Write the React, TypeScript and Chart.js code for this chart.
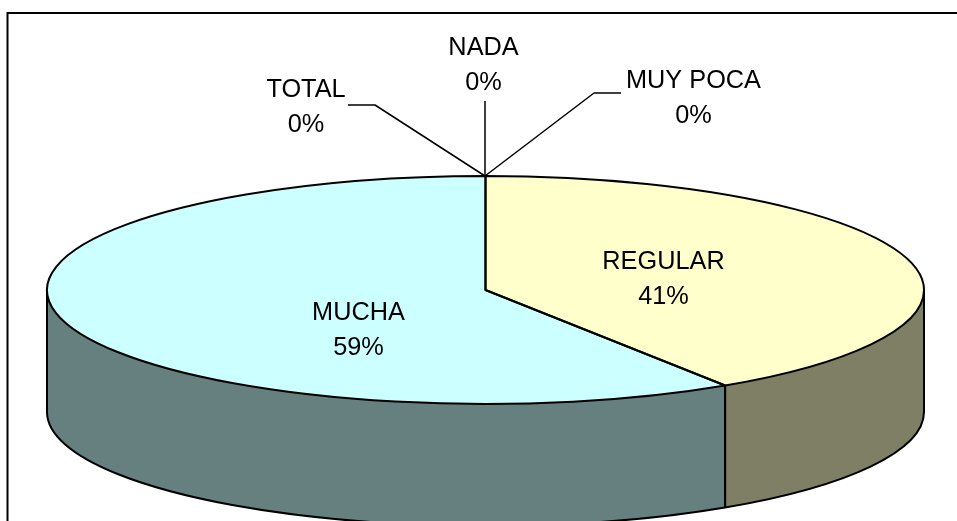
import React, { useEffect, useRef } from "react";
import { Chart, registerables } from "chart.js";

Chart.register(...registerables);

const categories = ["MUY POCA", "REGULAR", "MUCHA", "TOTAL", "NADA"];
const percentValues = [0, 40.8, 59.2, 0, 0];
const topColors = ["#CCCCFF", "#FFFFCC", "#CCFFFF", "#660066", "#FF8080"];
const sideColors = ["#66667F", "#7F7F66", "#667F7F", "#330033", "#7F4040"];

const CX = 485.5;
const CY = 290;
const RX = 438.5;
const RY = 114;
const DEPTH = 122;
const BASE_R = 100;
const FONT = '25.3px "Liberation Sans", Arial, sans-serif';

const calloutLayout: Record<string, { x: number; y: number; line?: number[][] }> = {
  "MUY POCA": { x: 693.5, y: 88, line: [[485, 176], [594, 93], [621, 93]] },
  REGULAR: { x: 663.5, y: 269 },
  MUCHA: { x: 358.5, y: 320 },
  TOTAL: { x: 306, y: 97, line: [[485, 176], [375, 105], [348, 105]] },
  NADA: { x: 483.5, y: 55, line: [[485, 176], [485, 101]] },
};

const pie3d = {
  id: "pie3d",
  beforeDatasetsDraw(chart: any) {
    const ctx: CanvasRenderingContext2D = chart.ctx;
    const arcs = chart.getDatasetMeta(0).data;
    ctx.save();
    arcs.forEach((arc: any, i: number) => {
      const a0 = Math.max(arc.startAngle, 0);
      const a1 = Math.min(arc.endAngle, Math.PI);
      if (a1 <= a0) return;
      ctx.beginPath();
      ctx.ellipse(CX, CY, RX, RY, 0, a0, a1, false);
      ctx.ellipse(CX, CY + DEPTH, RX, RY, 0, a1, a0, true);
      ctx.closePath();
      ctx.fillStyle = sideColors[i];
      ctx.fill();
    });
    ctx.lineWidth = 2;
    ctx.strokeStyle = "#000";
    arcs.forEach((arc: any) => {
      const a0 = Math.max(arc.startAngle, 0);
      const a1 = Math.min(arc.endAngle, Math.PI);
      if (a1 <= a0) return;
      ctx.beginPath();
      ctx.ellipse(CX, CY + DEPTH, RX, RY, 0, a0, a1, false);
      ctx.stroke();
      [a0, a1].forEach((a) => {
        const x = CX + RX * Math.cos(a);
        const y = CY + RY * Math.sin(a);
        ctx.beginPath();
        ctx.moveTo(x, y);
        ctx.lineTo(x, y + DEPTH);
        ctx.stroke();
      });
    });
    ctx.restore();
    // Squash the library's own pie into the ellipse of the top face
    const first = arcs[0];
    ctx.save();
    ctx.translate(CX, CY);
    ctx.scale(RX / BASE_R, RY / BASE_R);
    ctx.translate(-first.x, -first.y);
  },
  afterDatasetsDraw(chart: any) {
    const ctx: CanvasRenderingContext2D = chart.ctx;
    ctx.restore();
    const arcs = chart.getDatasetMeta(0).data;
    ctx.save();
    ctx.lineWidth = 2;
    ctx.strokeStyle = "#000";
    ctx.lineJoin = "round";
    arcs.forEach((arc: any) => {
      if (arc.endAngle - arc.startAngle <= 0) return;
      ctx.beginPath();
      ctx.moveTo(CX, CY);
      ctx.ellipse(CX, CY, RX, RY, 0, arc.startAngle, arc.endAngle);
      ctx.closePath();
      ctx.stroke();
    });
    ctx.font = FONT;
    ctx.fillStyle = "#000";
    ctx.textAlign = "center";
    ctx.textBaseline = "alphabetic";
    categories.forEach((name, i) => {
      const layout = calloutLayout[name];
      ctx.fillText(name, layout.x, layout.y);
      ctx.fillText(`${Math.round(percentValues[i])}%`, layout.x, layout.y + 35);
      if (layout.line) {
        ctx.beginPath();
        layout.line.forEach(([x, y], k) => (k ? ctx.lineTo(x, y) : ctx.moveTo(x, y)));
        ctx.lineWidth = 1.5;
        ctx.stroke();
      }
    });
    ctx.restore();
  },
};

const framePlugin = {
  id: "frame",
  beforeDraw(chart: any) {
    const { ctx } = chart;
    ctx.save();
    ctx.strokeStyle = "#000";
    ctx.lineWidth = 2;
    ctx.beginPath();
    ctx.moveTo(7.5, 521);
    ctx.lineTo(7.5, 13);
    ctx.lineTo(957, 13);
    ctx.stroke();
    ctx.restore();
  },
};

export default function App() {
  const ref = useRef<HTMLCanvasElement>(null);
  useEffect(() => {
    document.body.style.margin = "0";
    document.body.style.background = "#fff";
    const chart = new Chart(ref.current!, {
      type: "pie",
      data: {
        labels: categories,
        datasets: [
          {
            data: percentValues,
            backgroundColor: topColors,
            borderWidth: 0,
          },
        ],
      },
      options: {
        responsive: false,
        animation: false,
        radius: BASE_R,
        rotation: 0,
        plugins: { legend: { display: false }, tooltip: { enabled: false } },
      } as any,
      plugins: [framePlugin, pie3d],
    });
    return () => chart.destroy();
  }, []);
  return <canvas ref={ref} width={957} height={521} style={{ display: "block" }} />;
}
